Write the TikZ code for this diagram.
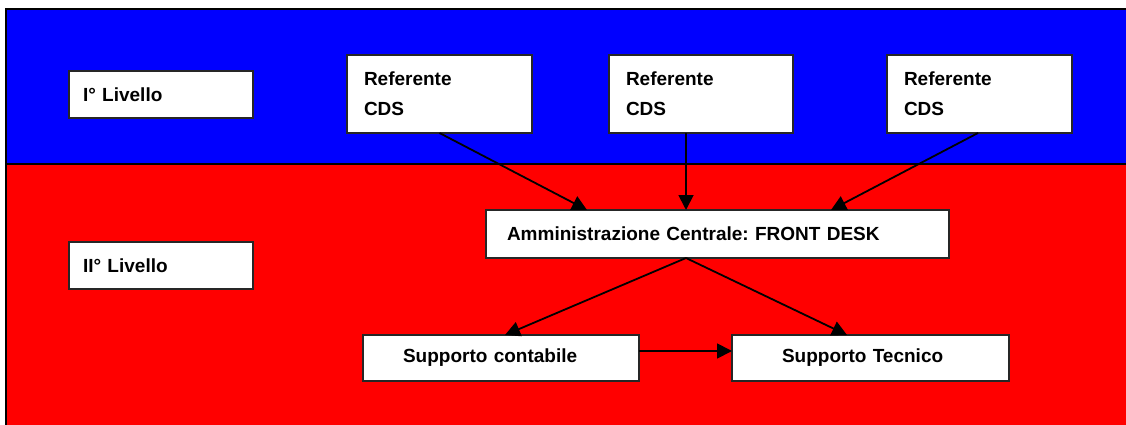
\documentclass[tikz,border=0pt]{standalone}
\usepackage{fontspec}
\setmainfont{Liberation Sans}
\usetikzlibrary{arrows.meta}
\definecolor{bandblue}{RGB}{0,0,255}
\definecolor{bandred}{RGB}{255,0,0}
\frenchspacing
\tikzset{
  box/.style={draw=black!85, line width=1.5pt, fill=white, anchor=north west,
    outer sep=0pt, inner ysep=0pt, align=left,
    font=\fontsize{19}{30}\selectfont\bfseries},
  conn/.style={line width=1.8pt, -{Triangle[length=15pt,width=15pt]}},
  frame/.style={line width=1.5pt, draw=black}
}
\begin{document}
\begin{tikzpicture}[x=1pt,y=-1pt]
\useasboundingbox (0,0) rectangle (1126,425);
\fill[white] (0,0) rectangle (1126,425);
% bands
\fill[bandblue] (6,9) rectangle (1127,164);
\fill[bandred] (6,164) rectangle (1127,426);
\draw[frame] (6,426) -- (6,9) -- (1127,9);
\draw[frame] (6,164) -- (1127,164);
% boxes
\node[box, inner xsep=14pt, text width=156pt, minimum height=47pt] (l1) at (69,71) {I° Livello};
\node[box, inner xsep=17pt, text width=151pt, minimum height=78pt] (r1) at (347,55) {Referente\\CDS};
\node[box, inner xsep=17pt, text width=150pt, minimum height=78pt] (r2) at (609,55) {Referente\\CDS};
\node[box, inner xsep=17pt, text width=151pt, minimum height=78pt] (r3) at (887,55) {Referente\\CDS};
\node[box, inner xsep=14pt, text width=156pt, minimum height=47pt] (l2) at (69,242) {II° Livello};
\node[box, inner xsep=21pt, text width=421pt, minimum height=48pt] (fd) at (486,210) {Amministrazione Centrale: FRONT DESK};
\node[box, inner xsep=40pt, text width=196pt, minimum height=46pt] (sc) at (363,335) {Supporto contabile};
\node[box, inner xsep=50pt, text width=177pt, minimum height=46pt] (st) at (732,335) {Supporto Tecnico};
% connectors
\draw[conn] (r1.south) -- ([xshift=101pt]fd.north west);
\draw[conn] ([xshift=77pt]r2.south west) -- ([xshift=200pt]fd.north west);
\draw[conn] ([xshift=91pt]r3.south west) -- ([xshift=345pt]fd.north west);
\draw[conn] ([xshift=200pt]fd.south west) -- ([xshift=142pt]sc.north west);
\draw[conn] ([xshift=200pt]fd.south west) -- ([xshift=115pt]st.north west);
\draw[conn] ([yshift=7pt]sc.east) -- ([yshift=7pt]st.west);
\end{tikzpicture}
\end{document}
